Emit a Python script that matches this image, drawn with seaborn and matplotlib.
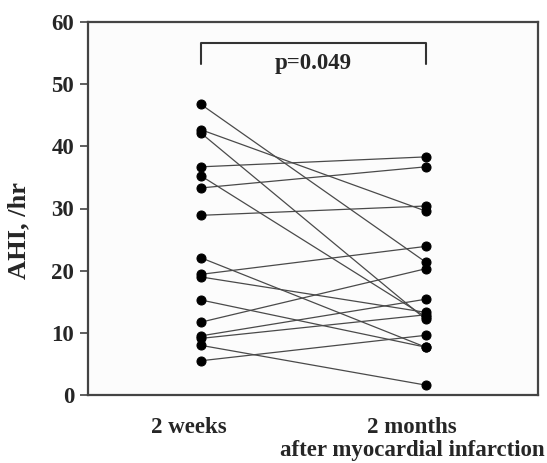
import matplotlib
matplotlib.use("Agg")
import matplotlib.pyplot as plt
import seaborn as sns
import pandas as pd

# AHI per patient, 2 weeks vs 2 months after MI
times = ["2 weeks", "2 months\nafter myocardial infarction"]
ahi_2w = [46.8, 42.7, 42.2, 36.7, 35.3, 33.3, 28.9, 22.1,
          19.4, 19.0, 15.3, 11.7, 9.5, 9.1, 8.0, 5.5]
ahi_2m = [21.4, 29.6, 12.2, 38.3, 12.6, 36.7, 30.4, 7.7,
          23.9, 13.3, 7.7, 20.3, 15.4, 12.9, 1.6, 9.6]
p_text = "p=0.049"

rows = []
for i, (a, b) in enumerate(zip(ahi_2w, ahi_2m)):
    rows.append({"subject": i, "pos": 0, "ahi": a})
    rows.append({"subject": i, "pos": 1, "ahi": b})
df = pd.DataFrame(rows)

sns.set_style("white")
plt.rcParams["font.family"] = ["Liberation Serif", "DejaVu Serif"]
plt.rcParams["font.weight"] = "bold"

fig = plt.figure(figsize=(5.47, 4.63), dpi=100)
ax = fig.add_axes([88 / 547, 1 - 395 / 463, 450 / 547, 373 / 463])
ax.set_facecolor("#fcfcfc")

sns.lineplot(data=df, x="pos", y="ahi", units="subject", estimator=None,
             color="#4a4a4a", linewidth=0.9, marker="o", markersize=6.5,
             markerfacecolor="black", markeredgecolor="black", ax=ax)

ax.set_xlim(-0.5, 1.5)
ax.set_ylim(0, 60)
ax.set_yticks(range(0, 61, 10))
# category labels sit a little left of the points, as in the original
ax.set_xticks([-0.05, 0.94])
ax.set_xticklabels(times, fontsize=16.5, fontweight="bold", linespacing=1.1)
ax.tick_params(axis="y", direction="out", length=6, width=1.2, color="#444444",
               labelsize=16.5, left=True, pad=4)
ax.tick_params(axis="x", length=0, pad=16)
ax.set_xlabel("")
ax.set_ylabel("AHI, /hr", fontsize=19, fontweight="bold")
ax.yaxis.set_label_coords(-0.128, 0.44)

for s in ax.spines.values():
    s.set_color("#444444")
    s.set_linewidth(1.6)

# significance bracket
ax.plot([0, 0, 1, 1], [53.3, 56.7, 56.7, 53.3], color="#333333", lw=1.5)
ax.text(0.5, 53.4, p_text, ha="center", va="center", fontsize=16.5, fontweight="bold")

fig.savefig("out.png", dpi=100)
